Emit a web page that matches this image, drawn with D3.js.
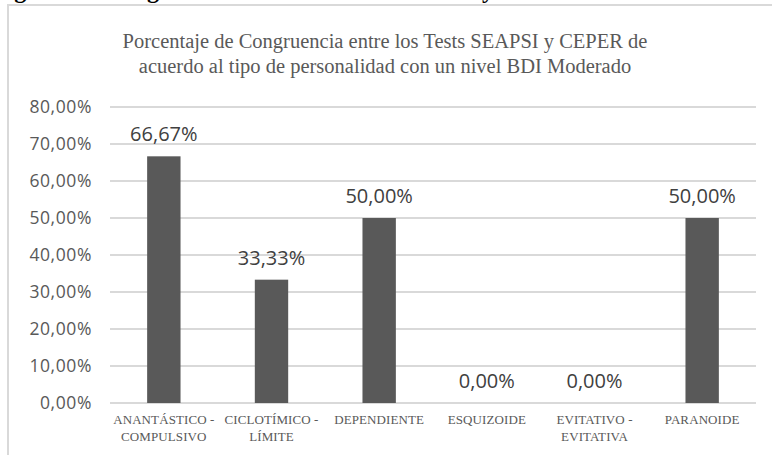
<!DOCTYPE html>
<html>
<head>
<meta charset="utf-8">
<script src="https://cdn.jsdelivr.net/npm/d3@7"></script>
<style>
  body { margin: 0; background: #fff; }
  svg { display: block; }
</style>
</head>
<body>
<div id="chart"></div>
<script>
// data
var categories = ["ANANTÁSTICO - COMPULSIVO", "CICLOTÍMICO - LÍMITE", "DEPENDIENTE", "ESQUIZOIDE", "EVITATIVO - EVITATIVA", "PARANOIDE"];
var labelLines = [["ANANTÁSTICO -", "COMPULSIVO"], ["CICLOTÍMICO -", "LÍMITE"], ["DEPENDIENTE"], ["ESQUIZOIDE"], ["EVITATIVO -", "EVITATIVA"], ["PARANOIDE"]];
var values = [0.6667, 0.3333, 0.50, 0, 0, 0.50];
var yTicks = [0, 0.1, 0.2, 0.3, 0.4, 0.5, 0.6, 0.7, 0.8];
var titleLines = ["Porcentaje de Congruencia entre los Tests SEAPSI y CEPER de", "acuerdo al tipo de personalidad con un nivel BDI Moderado"];

var width = 772, height = 455;
var grey = "#595959";

var svg = d3.select("#chart").append("svg")
  .attr("width", width)
  .attr("height", height);

// caption of the document, cut off at the top (only descenders show)
svg.append("text")
  .attr("x", -7)
  .attr("y", -2)
  .attr("font-family", "Liberation Serif")
  .attr("font-weight", "bold")
  .attr("font-size", 24)
  .attr("fill", "#000")
  .text("Figura 10. Congruencia entre los Tests SEAPSI y CEPER");

// chart frame
svg.append("line").attr("x1", 8).attr("x2", 772).attr("y1", 5).attr("y2", 5)
  .attr("stroke", "#d9d9d9").attr("stroke-width", 2);
svg.append("line").attr("x1", 8).attr("x2", 8).attr("y1", 4).attr("y2", 455)
  .attr("stroke", "#d9d9d9").attr("stroke-width", 2);

// title
svg.append("g").selectAll("text")
  .data(titleLines)
  .enter().append("text")
  .attr("x", 385)
  .attr("y", function(d, i) { return 48 + i * 25; })
  .attr("text-anchor", "middle")
  .attr("font-family", "Liberation Serif")
  .attr("font-size", 20.5)
  .attr("fill", grey)
  .text(function(d) { return d; });

var x = d3.scaleBand()
  .domain(categories)
  .range([110, 756])
  .paddingInner(0.69)
  .paddingOuter(0.345);

var y = d3.scaleLinear()
  .domain([0, 0.8])
  .range([403, 107]);

var locale = d3.formatLocale({decimal: ",", thousands: ".", grouping: [3], currency: ["", "€"]});
var fmt = function(v) { return locale.format(".2f")(v * 100) + "%"; };

// gridlines
svg.append("g").selectAll("line")
  .data(yTicks)
  .enter().append("line")
  .attr("x1", 110).attr("x2", 756)
  .attr("y1", function(d) { return y(d); })
  .attr("y2", function(d) { return y(d); })
  .attr("stroke", "#d9d9d9")
  .attr("stroke-width", 2);

// y axis labels
var yAxis = svg.append("g")
  .attr("transform", "translate(100,0)")
  .call(d3.axisLeft(y).tickValues(yTicks).tickFormat(fmt).tickSize(0).tickPadding(8));
yAxis.select(".domain").remove();
yAxis.selectAll("text")
  .attr("font-family", "Open Sans")
  .attr("font-size", 17.5)
  .attr("letter-spacing", 0.6)
  .attr("fill", grey);

// bars
svg.append("g").selectAll("rect")
  .data(values)
  .enter().append("rect")
  .attr("x", function(d, i) { return x(categories[i]); })
  .attr("y", function(d) { return y(d); })
  .attr("width", x.bandwidth())
  .attr("height", function(d) { return y(0) - y(d); })
  .attr("fill", grey);

// value labels
svg.append("g").selectAll("text")
  .data(values)
  .enter().append("text")
  .attr("x", function(d, i) { return x(categories[i]) + x.bandwidth() / 2; })
  .attr("y", function(d) { return y(d) - 15; })
  .attr("text-anchor", "middle")
  .attr("font-family", "Open Sans")
  .attr("font-size", 20)
  .attr("fill", "#404040")
  .text(fmt);

// x axis labels
var xl = svg.append("g").selectAll("text")
  .data(labelLines)
  .enter().append("text")
  .attr("x", function(d, i) { return x(categories[i]) + x.bandwidth() / 2; })
  .attr("y", 424)
  .attr("text-anchor", "middle")
  .attr("font-family", "Liberation Serif")
  .attr("font-size", 13)
  .attr("letter-spacing", 0.1)
  .attr("fill", grey);
xl.selectAll("tspan")
  .data(function(d) { return d; })
  .enter().append("tspan")
  .attr("x", function() { return d3.select(this.parentNode).attr("x"); })
  .attr("dy", function(d, i) { return i === 0 ? 0 : 17; })
  .text(function(d) { return d; });
</script>
</body>
</html>
